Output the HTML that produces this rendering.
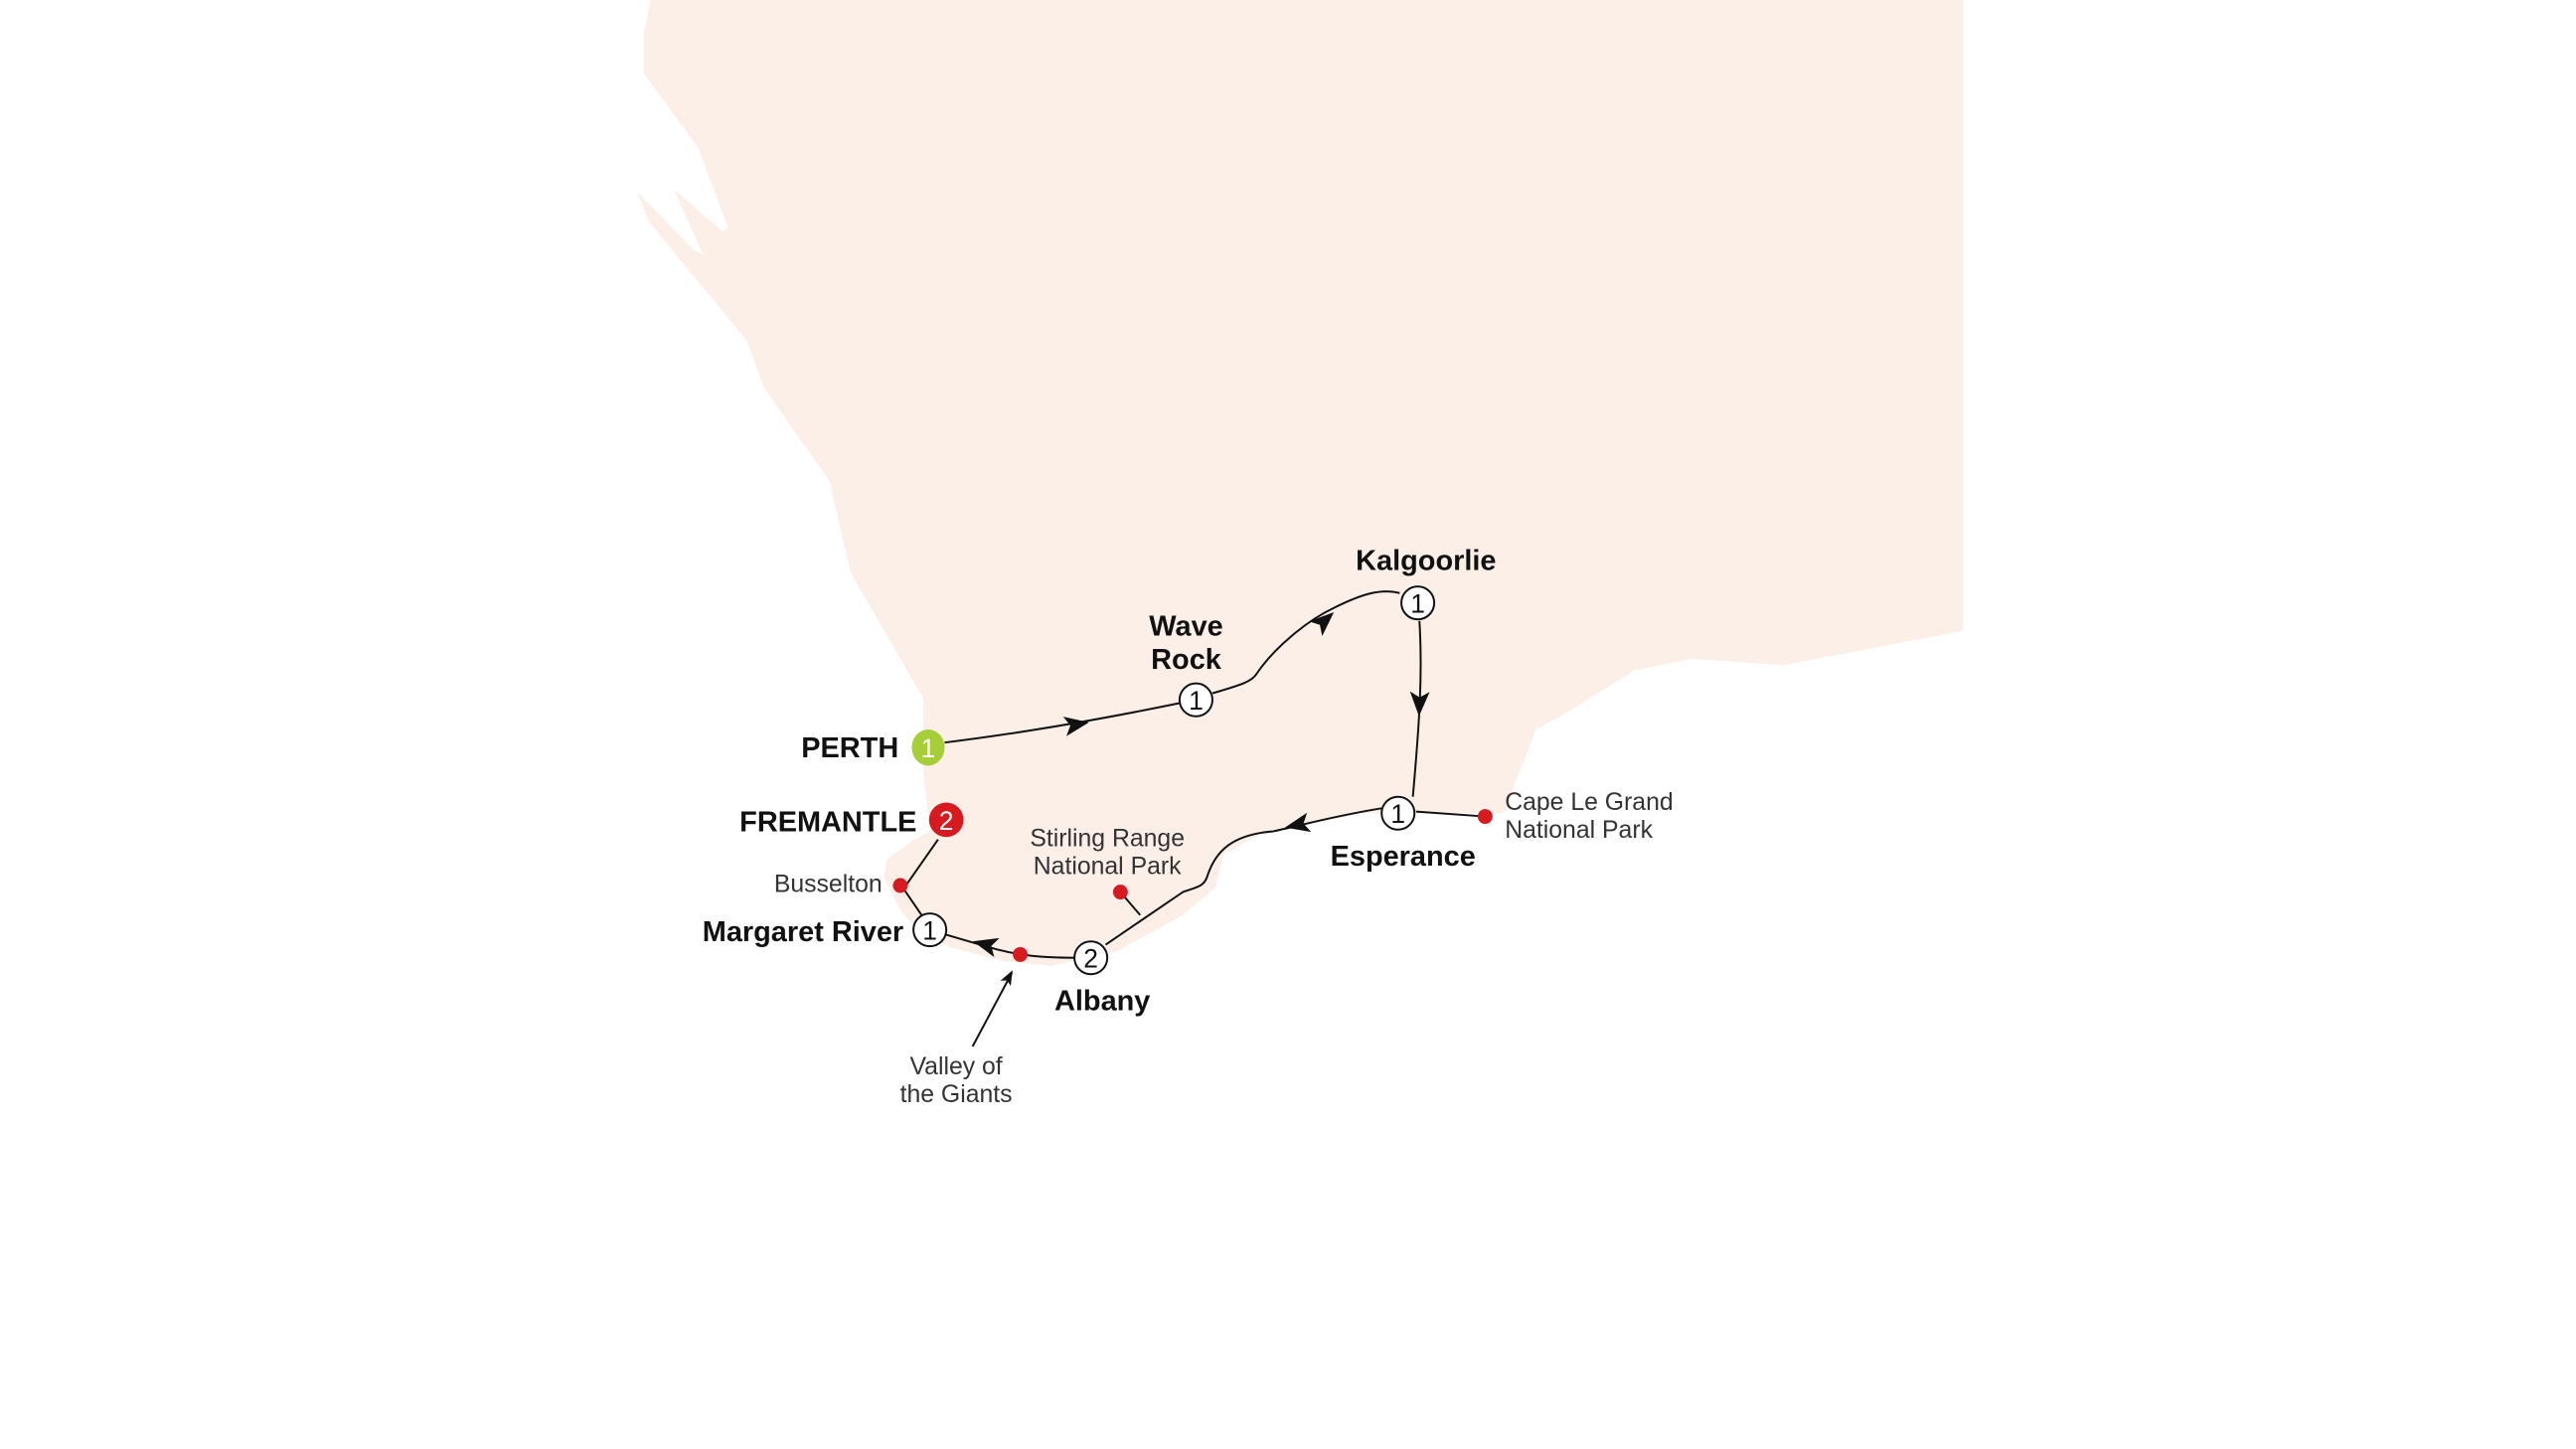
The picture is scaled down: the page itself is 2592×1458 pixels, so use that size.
<!DOCTYPE html>
<html><head><meta charset="utf-8"><style>
html,body{margin:0;padding:0;background:#fff;}
svg{display:block;}
.b{font-family:"Liberation Sans",sans-serif;font-weight:bold;font-size:17.5px;fill:#111;}
.r{font-family:"Liberation Sans",sans-serif;font-size:15px;fill:#333;}
.n{font-family:"Liberation Sans",sans-serif;font-size:16px;fill:#111;text-anchor:middle;}
</style></head><body>
<svg width="2592" height="1458" viewBox="0 0 1568 882" preserveAspectRatio="none" xmlns="http://www.w3.org/2000/svg">
<polygon fill="#fcefe7" points="396,0 392,20 392,45 425,90 443,138 440,141 410,115 428,155 422,152 388,117 395,135 455,208 465,236 505,293 510,315 518,349 562,425 562,470 566,506 555,512 540,523 538,534 548,554 560,568 580,577 610,585 640,588 680,579 720,557 740,540 745,520 770,506 830,495 915,495 935,444 950,436 995,408 1030,401 1085,405 1195,384 1195,0"/>
<g fill="none" stroke="#111" stroke-width="1.2">
<path d="M575,452 Q640,444 718,428"/>
<path d="M738,422 C755,417 762,415 765,410 C775,395 795,378 812,370 C828,362 840,358 852,361"/>
<path d="M864,378 C866,410 864,440 860,485"/>
<path d="M841,492 C810,497 790,503 775,506 C750,508 740,518 735,533 C733,540 728,540 720,543 L673,575"/>
<path d="M654,583 C635,583 620,582 600,576 L576,569"/>
<path d="M561,557 L550,541 L571,511"/>
<path d="M862,494 L904,497"/>
<path d="M682,543 L694,557"/>
<path d="M592,637 L616,592"/>
</g>
<g fill="#111">
<path d="M8,0 L-7,-6 L-3.5,0 L-7,6 Z" transform="translate(655,441) rotate(-9.5)"/>
<path d="M8,0 L-7,-6 L-3.5,0 L-7,6 Z" transform="translate(806,378) rotate(-42)"/>
<path d="M8,0 L-7,-6 L-3.5,0 L-7,6 Z" transform="translate(864,428) rotate(92)"/>
<path d="M8,0 L-7,-6 L-3.5,0 L-7,6 Z" transform="translate(790,502) rotate(168)"/>
<path d="M8,0 L-7,-6 L-3.5,0 L-7,6 Z" transform="translate(600,575) rotate(195)"/>
<path d="M5,0 L-4,-3.5 L-2,0 L-4,3.5 Z" transform="translate(614,595) rotate(-62)"/>
</g>
<g fill="#d71920">
<circle cx="548" cy="539" r="4.5"/>
<circle cx="621" cy="581" r="4.5"/>
<circle cx="682" cy="543" r="4.5"/>
<circle cx="904" cy="497" r="4.5"/>
</g>
<g fill="#fff" stroke="#111" stroke-width="1.2">
<circle cx="728" cy="426" r="10"/>
<circle cx="863" cy="367" r="10"/>
<circle cx="851" cy="495" r="10"/>
<circle cx="664" cy="583" r="10"/>
<circle cx="566" cy="566" r="10"/>
</g>
<ellipse cx="565" cy="455" rx="10" ry="11" fill="#a6ce39"/>
<circle cx="576" cy="499" r="10.5" fill="#d71920"/>
<text class="n" x="728" y="432">1</text>
<text class="n" x="863" y="373">1</text>
<text class="n" x="851" y="501">1</text>
<text class="n" x="664" y="589">2</text>
<text class="n" x="566" y="572">1</text>
<text class="n" x="565" y="461" style="fill:#fff">1</text>
<text class="n" x="576" y="505" style="fill:#fff">2</text>
<text class="b" x="547" y="461" text-anchor="end">PERTH</text>
<text class="b" x="722" y="387" text-anchor="middle">Wave</text>
<text class="b" x="722" y="407" text-anchor="middle">Rock</text>
<text class="b" x="868" y="347" text-anchor="middle">Kalgoorlie</text>
<text class="b" x="854" y="527" text-anchor="middle">Esperance</text>
<text class="b" x="671" y="615" text-anchor="middle">Albany</text>
<text class="b" x="550" y="573" text-anchor="end">Margaret River</text>
<text class="b" x="558" y="506" text-anchor="end">FREMANTLE</text>
<text class="r" x="537" y="543" text-anchor="end">Busselton</text>
<text class="r" x="674" y="515" text-anchor="middle">Stirling Range</text>
<text class="r" x="674" y="532" text-anchor="middle">National Park</text>
<text class="r" x="916" y="493">Cape Le Grand</text>
<text class="r" x="916" y="510">National Park</text>
<text class="r" x="582" y="654" text-anchor="middle">Valley of</text>
<text class="r" x="582" y="671" text-anchor="middle">the Giants</text>
</svg>
</body></html>
